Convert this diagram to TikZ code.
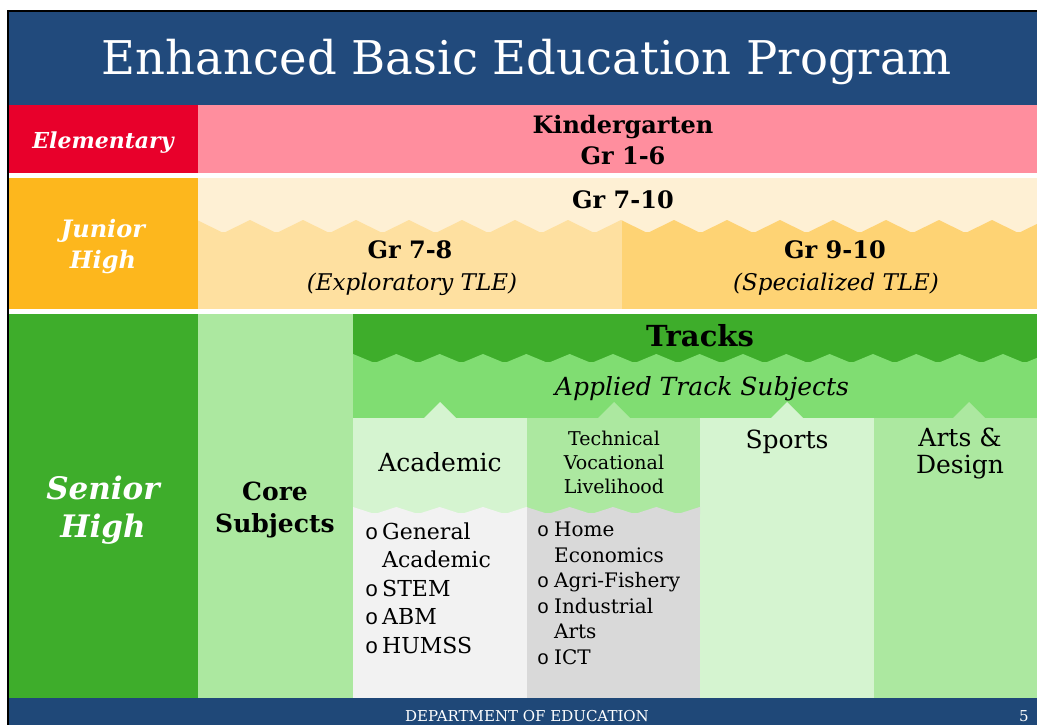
\documentclass[tikz,border=0pt]{standalone}
\usepackage{fontspec}
\setmainfont{DejaVu Serif}
\newfontfamily\bltfont{Liberation Mono}

\definecolor{titleblue}{HTML}{214A7C}
\definecolor{footblue}{HTML}{1F4878}
\definecolor{elemred}{HTML}{E8002B}
\definecolor{elempink}{HTML}{FF8E9E}
\definecolor{junorange}{HTML}{FDB71D}
\definecolor{juncream}{HTML}{FEF0D4}
\definecolor{junleft}{HTML}{FEE0A0}
\definecolor{junright}{HTML}{FED374}
\definecolor{sengreen}{HTML}{3EAD2B}
\definecolor{coregreen}{HTML}{ACE8A0}
\definecolor{bandgreen}{HTML}{80DD72}
\definecolor{palegreen}{HTML}{D5F4D0}
\definecolor{lightgray}{HTML}{F2F2F2}
\definecolor{midgray}{HTML}{D9D9D9}

\newlength{\bltw}
\setlength{\bltw}{17pt}
\newcommand{\litem}[1]{\makebox[\bltw][l]{\bltfont o}#1}
\newcommand{\lcont}[1]{\hspace*{\bltw}#1}

\begin{document}
\begin{tikzpicture}[
        x=1pt, y=-1pt,
        txt/.style={anchor=base, inner sep=0pt},
        side/.style={txt, text=white, font=\fontsize{#1}{#1}\selectfont\bfseries\itshape},
        bold/.style={txt, font=\fontsize{#1}{#1}\selectfont\bfseries},
        ital/.style={txt, font=\fontsize{#1}{#1}\selectfont\itshape},
        plain/.style={txt, font=\fontsize{#1}{#1}\selectfont},
        list/.style={anchor=base west, inner sep=0pt, align=left}
    ]
    \useasboundingbox (0,0) rectangle (1037,725);

    % frame and title
    \fill[black] (7,10) rectangle (1037,12);
    \fill[black] (7,10) rectangle (9,725);
    \fill[titleblue] (9,12) rectangle (1037,105);
    \node[txt, text=white, font=\fontsize{46.5}{54}\selectfont] (title) at (527,75) {Enhanced Basic Education Program};

    % elementary
    \fill[elemred] (9,105) rectangle (198,173);
    \fill[elempink] (198,105) rectangle (1037,173);
    \node[side=22] (elem) at (103,148) {Elementary};
    \node[bold=24] (kg) at (623,133) {Kindergarten};
    \node[bold=24] (g16) at (623,164) {Gr 1-6};

    % junior high
    \fill[junorange] (9,178) rectangle (198,309);
    \fill[juncream] (198,178) rectangle (1037,309);
    \foreach \a/\b/\c in {198/622/junleft, 622/1037/junright} {
        \begin{scope}
            \clip (\a,178) rectangle (\b,309);
            \fill[\c] (\a,232) rectangle (\b,309);
            \foreach \x in {197,250,...,1045}
                \fill[\c] (\x-26.5,233) -- (\x,220) -- (\x+26.5,233) -- cycle;
        \end{scope}
    }
    \node[side=24] (jun1) at (103,237) {Junior};
    \node[side=24] (jun2) at (103,268) {High};
    \node[bold=24] (g710) at (623,208) {Gr 7-10};
    \node[bold=24] (g78) at (410,258) {Gr 7-8};
    \node[ital=23] (expl) at (412,290) {(Exploratory TLE)};
    \node[bold=24] (g910) at (835,258) {Gr 9-10};
    \node[ital=23] (spec) at (836,290) {(Specialized TLE)};

    % senior high
    \fill[sengreen] (9,314) rectangle (198,698);
    \fill[coregreen] (198,314) rectangle (353,698);
    \fill[sengreen] (353,314) rectangle (1037,362);
    \begin{scope}
        \clip (353,314) rectangle (1037,420);
        \fill[bandgreen] (353,362) rectangle (1037,418);
        \foreach \k in {0,...,16}
            \fill[bandgreen] (353+43.33*\k-21.67,363) -- (353+43.33*\k,354) -- (353+43.33*\k+21.67,363) -- cycle;
    \end{scope}
    \foreach \a/\b/\m/\c in {353/527/440/palegreen, 527/700/614/coregreen, 700/874/787/palegreen, 874/1037/969/coregreen} {
        \fill[\c] (\a,418) rectangle (\b,698);
        \fill[\c] (\m-16.5,418.5) -- (\m,402) -- (\m+16.5,418.5) -- cycle;
    }
    \foreach \a/\b/\c in {353/527/lightgray, 527/700/midgray} {
        \begin{scope}
            \clip (\a,418) rectangle (\b,698);
            \fill[\c] (\a,513) rectangle (\b,698);
            \foreach \k in {0,...,9}
                \fill[\c] (353+43.33*\k-21.67,514) -- (353+43.33*\k,507) -- (353+43.33*\k+21.67,514) -- cycle;
        \end{scope}
    }
    \node[side=31] (sen1) at (103,499) {Senior};
    \node[side=31] (sen2) at (103,537) {High};
    \node[bold=25] (core1) at (275,500) {Core};
    \node[bold=25] (core2) at (275,532) {Subjects};
    \node[bold=29] (tracks) at (700,346) {Tracks};
    \node[ital=25] (applied) at (702,395) {Applied Track Subjects};
    \node[plain=25] (acad) at (440,471) {Academic};
    \node[plain=19] (tvl1) at (614,445) {Technical};
    \node[plain=19] (tvl2) at (614,469) {Vocational};
    \node[plain=19] (tvl3) at (614,493) {Livelihood};
    \node[plain=25] (sports) at (787,448) {Sports};
    \node[plain=25] (arts1) at (960,446) {Arts \&};
    \node[plain=25] (arts2) at (960,473) {Design};
    \node[list, font=\fontsize{22}{28.5}\selectfont] (acadlist) at (365,653)
        {\litem{General}\\\lcont{Academic}\\\litem{STEM}\\\litem{ABM}\\\litem{HUMSS}};
    \node[list, font=\fontsize{20}{25.5}\selectfont] (tvllist) at (537,664)
        {\litem{Home}\\\lcont{Economics}\\\litem{Agri-Fishery}\\\litem{Industrial}\\\lcont{Arts}\\\litem{ICT}};

    % footer
    \fill[footblue] (9,698) rectangle (1037,725);
    \node[txt, text=white, font=\fontsize{15}{18}\selectfont] (dept) at (527,721) {DEPARTMENT OF EDUCATION};
    \node[txt, text=white, font=\fontsize{15}{18}\selectfont] (page) at (1024,721) {5};
\end{tikzpicture}
\end{document}
